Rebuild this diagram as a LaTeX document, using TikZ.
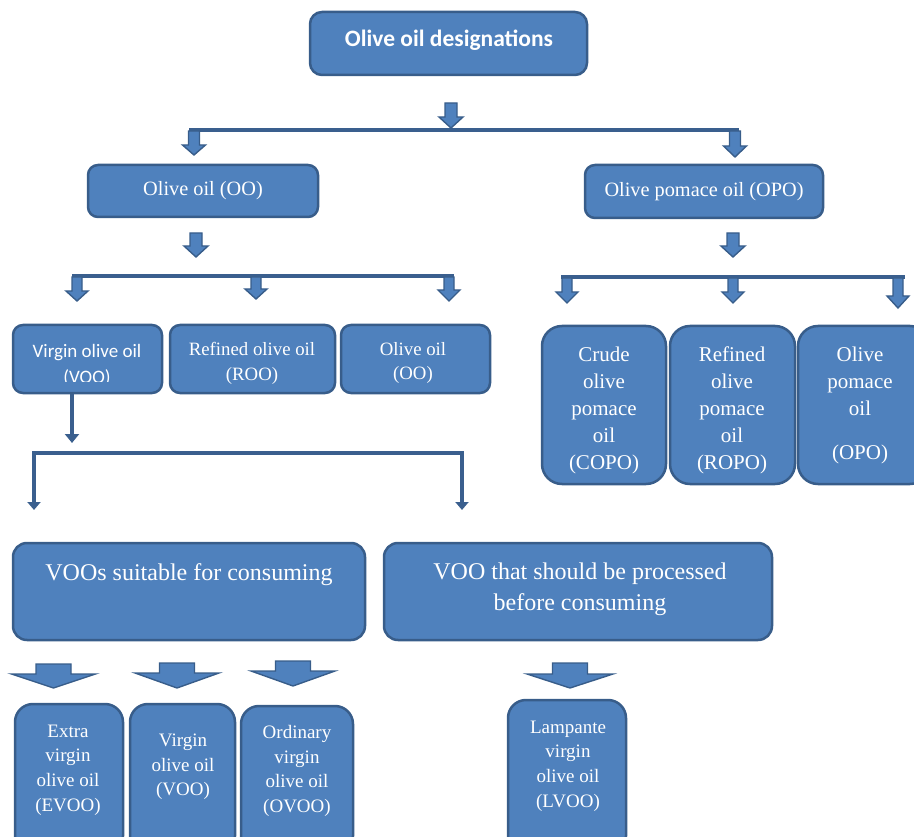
\documentclass[tikz,border=0pt]{standalone}
\usepackage{fontspec}
\setmainfont{Liberation Serif}
\newfontfamily\calfont{Carlito}
\usetikzlibrary{arrows.meta}
\definecolor{boxfill}{HTML}{4F81BD}
\definecolor{boxedge}{HTML}{385D8A}
\definecolor{barcol}{HTML}{3A5F8E}
\newcommand\oilarrow[6]{%
  \draw[arrowshape] ({#1-#3},#2) -- ({#1+#3},#2) -- ({#1+#3},#5) -- ({#1+#4},#5)
    -- (#1,#6) -- ({#1-#4},#5) -- ({#1-#3},#5) -- cycle;}
\tikzset{
  box/.style={draw=boxedge, fill=boxfill, line width=2.5pt, rounded corners=#1, inner sep=0pt},
  box/.default=10pt,
  arrowshape/.style={draw=boxedge, fill=boxfill, line width=1.4pt, line join=miter},
  barline/.style={draw=barcol, line width=4.5pt},
  thinconn/.style={draw=barcol, line width=4pt},
  wtext/.style={text=white, align=center, inner sep=0pt}
}
\begin{document}
\begin{tikzpicture}[x=1pt,y=-1pt]
\useasboundingbox (0,0) rectangle (914,837);
\clip (0,0) rectangle (914,837);
% --- boxes ---
\node[box=12pt, minimum width=277pt, minimum height=63pt] (title) at (448.5,43.5) {};
\node[box, minimum width=230pt, minimum height=52pt] (oo) at (203,191) {};
\node[box, minimum width=238pt, minimum height=53pt] (opo) at (704,191.5) {};
\node[box, minimum width=149pt, minimum height=68pt] (voo) at (87.5,359) {};
\node[box, minimum width=165pt, minimum height=68pt] (roo) at (252.5,359) {};
\node[box, minimum width=149pt, minimum height=68pt] (oo2) at (415.5,359) {};
\node[box=20pt, minimum width=124pt, minimum height=158pt] (copo) at (604,405) {};
\node[box=20pt, minimum width=125pt, minimum height=158pt] (ropo) at (732.5,405) {};
\node[box=20pt, minimum width=132pt, minimum height=158pt] (opo2) at (864,405) {};
\node[box=14pt, minimum width=352pt, minimum height=97pt] (suit) at (189,591.5) {};
\node[box=14pt, minimum width=388pt, minimum height=97pt] (proc) at (578,591.5) {};
\node[box=18pt, minimum width=108pt, minimum height=150pt] (evoo) at (69,779) {};
\node[box=18pt, minimum width=105pt, minimum height=150pt] (vvoo) at (182.5,779) {};
\node[box=18pt, minimum width=112pt, minimum height=148pt] (ovoo) at (297,780) {};
\node[box=18pt, minimum width=118pt, minimum height=154pt] (lvoo) at (567,777) {};
% --- texts ---
\node[wtext, font=\calfont\bfseries\fontsize{23.5}{28}\selectfont] (ttl) at (449,40) {Olive oil designations};
\node[wtext, font=\fontsize{20.3}{24}\selectfont] (oot) at (203,191) {Olive oil (OO)};
\node[wtext, font=\fontsize{20.3}{24}\selectfont] (opot) at (704,192) {Olive pomace oil (OPO)};
\begin{scope}
\clip (0,320) rectangle (170,382);
\node[wtext, font=\calfont\fontsize{19}{26}\selectfont] (voot) at (87,365) {Virgin olive oil\\(VOO)};
\end{scope}
\node[wtext, font=\fontsize{18.8}{25}\selectfont] (root) at (252,363) {Refined olive oil\\(ROO)};
\node[wtext, font=\fontsize{18.8}{24}\selectfont] (oo2t) at (413,363) {Olive oil\\(OO)};
\node[wtext, font=\fontsize{21}{27}\selectfont] (copot) at (604,410) {Crude\\olive\\pomace\\oil\\(COPO)};
\node[wtext, font=\fontsize{21}{27}\selectfont] (ropot) at (732,410) {Refined\\olive\\pomace\\oil\\(ROPO)};
\node[wtext, font=\fontsize{21}{27}\selectfont] (opo2t) at (860,405) {Olive\\pomace\\oil\\[17pt](OPO)};
\node[wtext, font=\fontsize{24}{31}\selectfont] (suitt) at (189,575) {VOOs suitable for consuming};
\node[wtext, font=\fontsize{24}{31}\selectfont] (proct) at (580,589.5) {VOO that should be processed\\before consuming};
\node[wtext, font=\fontsize{19}{24.7}\selectfont] (evoot) at (68,770) {Extra\\virgin\\olive oil\\(EVOO)};
\node[wtext, font=\fontsize{19}{24.7}\selectfont] (vvoot) at (183,767) {Virgin\\olive oil\\(VOO)};
\node[wtext, font=\fontsize{19}{24.7}\selectfont] (ovoot) at (297,771) {Ordinary\\virgin\\olive oil\\(OVOO)};
\node[wtext, font=\fontsize{19}{24.7}\selectfont] (lvoot) at (568,766) {Lampante\\virgin\\olive oil\\(LVOO)};
% --- bars ---
\coordinate (b1l) at (189,130); \coordinate (b1r) at (739,130);
\draw[barline] (b1l) -- (b1r);
\coordinate (b2l) at (72,276); \coordinate (b2r) at (454,276);
\draw[barline] (b2l) -- (b2r);
\coordinate (b3l) at (561,277); \coordinate (b3r) at (905,277);
\draw[barline] (b3l) -- (b3r);
% --- small block arrows ---
\oilarrow{451}{103}{6}{12}{117}{128}
\oilarrow{194}{131}{5.5}{11.5}{145}{155}
\oilarrow{735}{131}{5.5}{11.5}{146}{157}
\oilarrow{196}{233}{6}{12}{246}{257}
\oilarrow{733}{233}{6}{12}{246}{257}
\oilarrow{77}{277}{5}{11}{291}{301}
\oilarrow{256}{277}{5}{11}{289}{299}
\oilarrow{449}{277}{5}{11}{290}{301}
\oilarrow{567}{278}{5}{11}{292}{303}
\oilarrow{733}{278}{5}{11}{292}{303}
\oilarrow{898}{278}{5}{11}{296}{308}
% --- wide block arrows ---
\oilarrow{53.5}{664}{17.5}{42}{674}{688}
\oilarrow{177}{663}{17.5}{42}{673}{688}
\oilarrow{293}{661}{17.5}{42}{671}{686}
\oilarrow{570}{663}{17.5}{43}{674}{688}
% --- thin connectors ---
\coordinate (vooend) at (72,443);
\draw[thinconn, -{Triangle[width=14pt,length=9pt]}] (voo.south -| vooend) -- (vooend);
\coordinate (c3a) at (34,510); \coordinate (c3b) at (34,453);
\coordinate (c3c) at (462,453); \coordinate (c3d) at (462,510);
\draw[thinconn, {Triangle[width=13pt,length=8pt]}-{Triangle[width=13pt,length=8pt]}, line join=miter] (c3a) -- (c3b) -- (c3c) -- (c3d);
\end{tikzpicture}
\end{document}
